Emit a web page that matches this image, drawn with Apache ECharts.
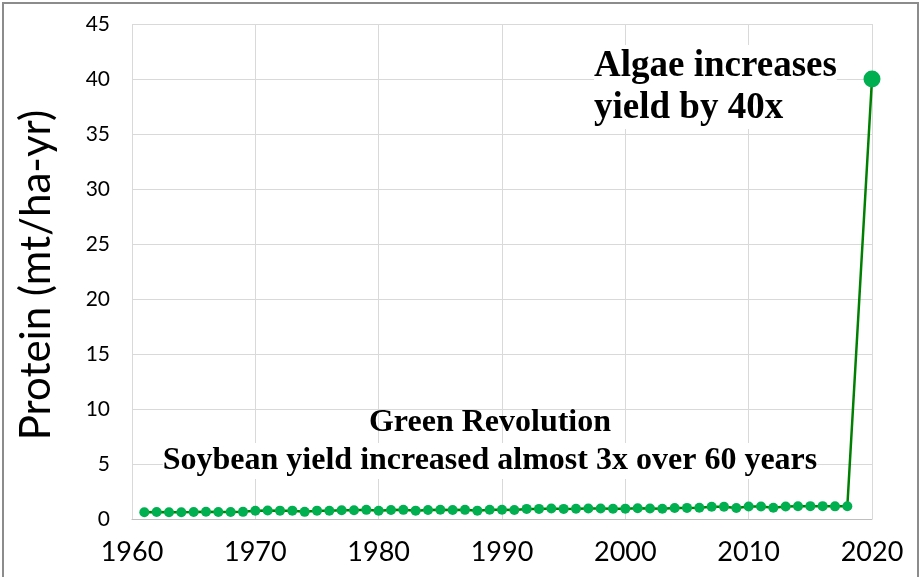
<!DOCTYPE html>
<html>
<head>
<meta charset="utf-8">
<script src="https://cdn.jsdelivr.net/npm/echarts@6/dist/echarts.min.js"></script>
<style>
  html, body { margin: 0; padding: 0; background: #fff; }
  #chart { width: 922px; height: 577px; }
</style>
</head>
<body>
<div id="chart"></div>
<script>
// soybean protein yield per year (mt/ha-yr)
var years = [
  1961, 1962, 1963, 1964, 1965, 1966, 1967, 1968, 1969, 1970,
  1971, 1972, 1973, 1974, 1975, 1976, 1977, 1978, 1979, 1980,
  1981, 1982, 1983, 1984, 1985, 1986, 1987, 1988, 1989, 1990,
  1991, 1992, 1993, 1994, 1995, 1996, 1997, 1998, 1999, 2000,
  2001, 2002, 2003, 2004, 2005, 2006, 2007, 2008, 2009, 2010,
  2011, 2012, 2013, 2014, 2015, 2016, 2017, 2018, 2020
];
var protein = [
  0.62, 0.63, 0.62, 0.62, 0.63, 0.66, 0.63, 0.63, 0.65, 0.75,
  0.78, 0.76, 0.76, 0.65, 0.76, 0.75, 0.80, 0.80, 0.83, 0.75,
  0.82, 0.83, 0.76, 0.82, 0.84, 0.82, 0.83, 0.76, 0.84, 0.84,
  0.82, 0.92, 0.92, 0.96, 0.92, 0.93, 0.96, 0.96, 0.93, 0.94,
  0.98, 0.96, 0.93, 1.00, 1.01, 1.02, 1.12, 1.12, 1.00, 1.14,
  1.13, 1.03, 1.13, 1.16, 1.17, 1.17, 1.15, 1.16, 40
];
var algaeNote = 'Algae increases\nyield by 40x';
var greenTitle = 'Green Revolution';
var greenNote = 'Soybean yield increased almost 3x over 60 years';

var chart = echarts.init(document.getElementById('chart'));

var points = years.map(function (y, i) {
  var p = { value: [y, protein[i]] };
  if (y === 2020) p.symbolSize = 17;
  return p;
});

chart.setOption({
  animation: false,
  grid: { left: 132, right: 50, top: 24, bottom: 58 },
  xAxis: {
    type: 'value',
    min: 1960,
    max: 2020,
    interval: 10,
    axisLine: { show: true, lineStyle: { color: '#bfbfbf' } },
    axisTick: { show: false },
    axisLabel: {
      color: '#000', fontSize: 27, fontFamily: 'Lato', margin: 20,
      formatter: function (v) { return String(v); }
    },
    splitLine: { show: true, lineStyle: { color: '#d9d9d9' } }
  },
  yAxis: {
    type: 'value',
    min: 0,
    max: 45,
    interval: 5,
    axisLine: { show: false },
    axisTick: { show: false },
    axisLabel: { color: '#000', fontSize: 21, fontFamily: 'Lato', margin: 22 },
    splitLine: { show: true, lineStyle: { color: '#d9d9d9' } }
  },
  series: [{
    type: 'line',
    data: points,
    symbol: 'circle',
    symbolSize: 10,
    z: 3,
    lineStyle: { color: '#008000', width: 2.5 },
    itemStyle: { color: '#00b050' }
  }],
  graphic: [
    {
      type: 'rect',
      shape: { x: 3, y: 3, width: 915, height: 600 },
      style: { fill: 'none', stroke: '#8c8c8c', lineWidth: 2 },
      silent: true
    },
    {
      type: 'text',
      x: 36, y: 275,
      rotation: Math.PI / 2,
      style: {
        text: 'Protein (mt/ha-yr)',
        fill: '#000',
        font: '42px Lato',
        align: 'center',
        verticalAlign: 'middle'
      }
    },
    {
      type: 'text',
      x: 594, y: 87,
      z: 2,
      style: {
        text: algaeNote,
        fill: '#000',
        font: 'bold 37px "Liberation Serif"',
        lineHeight: 42,
        align: 'left',
        verticalAlign: 'middle',
        backgroundColor: '#fff'
      }
    },
    {
      type: 'text',
      x: 490, y: 423,
      z: 2,
      style: {
        text: greenTitle,
        fill: '#000',
        font: 'bold 32px "Liberation Serif"',
        align: 'center',
        verticalAlign: 'middle'
      }
    },
    {
      type: 'text',
      x: 490, y: 461,
      z: 2,
      style: {
        text: greenNote,
        fill: '#000',
        font: 'bold 32px "Liberation Serif"',
        lineHeight: 36,
        align: 'center',
        verticalAlign: 'middle',
        backgroundColor: '#fff'
      }
    }
  ]
});
</script>
</body>
</html>
